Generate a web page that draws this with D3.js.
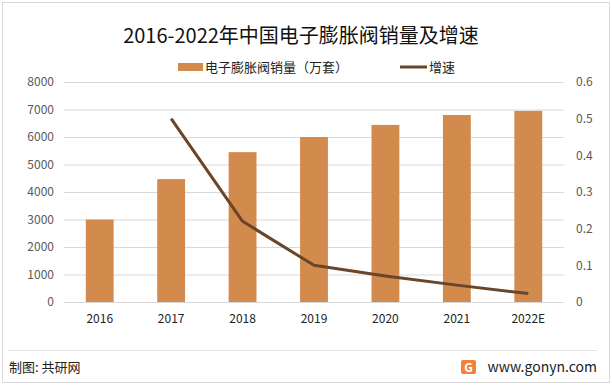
<!DOCTYPE html>
<html>
<head>
<meta charset="utf-8">
<script src="https://cdn.jsdelivr.net/npm/d3@7"></script>
<style>
  body { margin: 0; background: #fff; }
  text { font-family: "Noto Sans CJK SC", "Noto Sans", sans-serif; }
</style>
</head>
<body>
<div id="chart"></div>
<script>
// data
var years = ["2016", "2017", "2018", "2019", "2020", "2021", "2022E"];
var sales = [3000, 4470, 5450, 6000, 6440, 6800, 6950];      // 万套
var growth = [null, 0.5, 0.22, 0.10, 0.071, 0.046, 0.023];   // 增速
var leftTicks = [0, 1000, 2000, 3000, 4000, 5000, 6000, 7000, 8000];
var rightTicks = [0, 0.1, 0.2, 0.3, 0.4, 0.5, 0.6];

var svgWidth = 612, svgHeight = 386;
var margin = { top: 82, right: 48, bottom: 84, left: 64 };
var width = svgWidth - margin.left - margin.right;
var height = svgHeight - margin.top - margin.bottom;

var barColor = "#d38b4d", lineColor = "#694529";

var svg = d3.select("#chart").append("svg")
    .attr("width", svgWidth)
    .attr("height", svgHeight);

// outer frame
svg.append("rect")
    .attr("x", 2.5).attr("y", 2.5)
    .attr("width", svgWidth - 5).attr("height", svgHeight - 6)
    .attr("fill", "#fff").attr("stroke", "#d9d9d9");

svg.append("text")
    .attr("x", 301).attr("y", 43)
    .attr("text-anchor", "middle")
    .attr("font-size", 20)
    .attr("fill", "#111")
    .text("2016-2022年中国电子膨胀阀销量及增速");

// legend
var legend = svg.append("g");
legend.append("rect").attr("x", 178).attr("y", 63).attr("width", 25).attr("height", 8).attr("fill", barColor);
legend.append("text").attr("x", 205).attr("y", 72).attr("font-size", 13).attr("fill", "#222")
    .text("电子膨胀阀销量（万套）");
legend.append("line").attr("x1", 400).attr("x2", 427).attr("y1", 67).attr("y2", 67)
    .attr("stroke", lineColor).attr("stroke-width", 3);
legend.append("text").attr("x", 429).attr("y", 72).attr("font-size", 13).attr("fill", "#222")
    .text("增速");

var chartGroup = svg.append("g")
    .attr("transform", "translate(" + margin.left + "," + margin.top + ")");

var xScale = d3.scaleBand().domain(years).range([0, width]).paddingInner(0.61).paddingOuter(0.305);
var xPoint = d => xScale(d) + xScale.bandwidth() / 2;
var yLeft = d3.scaleLinear().domain([0, 8000]).range([height, 0]);
var yRight = d3.scaleLinear().domain([0, 0.6]).range([height, 0]);

// gridlines
chartGroup.append("g")
    .call(d3.axisLeft(yLeft).tickValues(leftTicks).tickSize(-width).tickFormat(""))
    .call(g => g.select(".domain").remove())
    .call(g => g.selectAll("line").attr("stroke", "#d9d9d9"));

// left axis
chartGroup.append("g")
    .call(d3.axisLeft(yLeft).tickValues(leftTicks).tickSize(0).tickPadding(10).tickFormat(d3.format("d")))
    .call(g => g.select(".domain").remove())
    .call(g => g.selectAll("text").attr("font-family", "Liberation Sans, sans-serif").attr("font-size", 12).attr("fill", "#595959"));

// right axis
chartGroup.append("g")
    .attr("transform", "translate(" + width + ",0)")
    .call(d3.axisRight(yRight).tickValues(rightTicks).tickSize(0).tickPadding(12).tickFormat(d => d === 0 ? "0" : d3.format(".1f")(d)))
    .call(g => g.select(".domain").remove())
    .call(g => g.selectAll("text").attr("font-family", "Liberation Sans, sans-serif").attr("font-size", 12).attr("fill", "#595959"));

// bottom axis
chartGroup.append("g")
    .attr("transform", "translate(0," + height + ")")
    .call(d3.axisBottom(xScale).tickSize(0).tickPadding(12))
    .call(g => g.select(".domain").remove())
    .call(g => g.selectAll("text").attr("font-family", "Liberation Sans, sans-serif").attr("font-size", 12).attr("fill", "#222"));

// bars
chartGroup.selectAll(".bar")
    .data(years)
    .enter()
    .append("rect")
    .attr("class", "bar")
    .attr("x", d => xScale(d))
    .attr("width", xScale.bandwidth())
    .attr("y", (d, i) => yLeft(sales[i]))
    .attr("height", (d, i) => height - yLeft(sales[i]))
    .attr("fill", barColor);

// growth line
var line = d3.line()
    .defined(d => d.v != null)
    .x(d => xPoint(d.y))
    .y(d => yRight(d.v));

chartGroup.append("path")
    .datum(years.map((y, i) => ({ y: y, v: growth[i] })))
    .attr("d", line)
    .attr("fill", "none")
    .attr("stroke", lineColor)
    .attr("stroke-width", 3)
    .attr("stroke-linejoin", "round");

// footer
svg.append("line")
    .attr("x1", 8).attr("x2", 597).attr("y1", 350.5).attr("y2", 350.5)
    .attr("stroke", "#e3e3e3");
svg.append("text")
    .attr("x", 9).attr("y", 372)
    .attr("font-size", 13).attr("fill", "#222")
    .text("制图: 共研网");

var logo = svg.append("g").attr("transform", "translate(461,360)");
logo.append("rect").attr("width", 15).attr("height", 14).attr("rx", 2).attr("fill", "#f2813a");
logo.append("text").attr("x", 7.5).attr("y", 11.5).attr("text-anchor", "middle")
    .attr("font-size", 12).attr("font-weight", "bold").attr("fill", "#fff")
    .attr("font-family", "Liberation Sans, sans-serif").text("G");
svg.append("text")
    .attr("x", 597).attr("y", 372)
    .attr("text-anchor", "end")
    .attr("font-family", "Liberation Sans, sans-serif")
    .attr("font-size", 14).attr("fill", "#222")
    .text("www.gonyn.com");
</script>
</body>
</html>
